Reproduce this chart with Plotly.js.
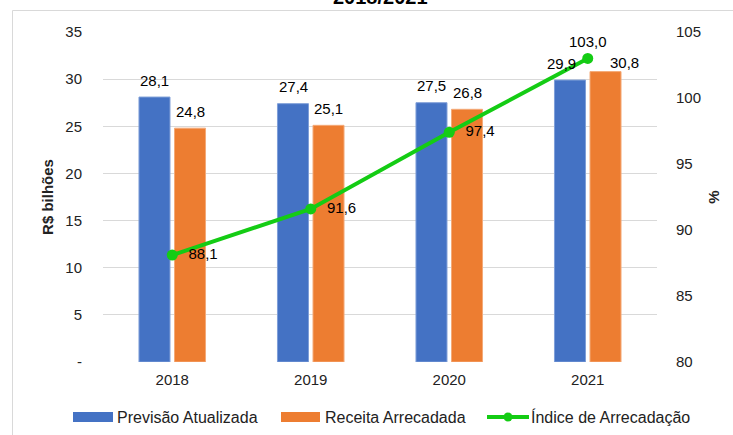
<!DOCTYPE html>
<html>
<head>
<meta charset="utf-8">
<script src="https://cdn.plot.ly/plotly-3.0.1.min.js"></script>
<style>html,body{margin:0;padding:0;background:#fff;}#chart{width:733px;height:435px;}</style>
</head>
<body>
<div id="chart"></div>
<script>
var years = ['2018', '2019', '2020', '2021'];
var previsao = [28.1, 27.4, 27.5, 29.9];
var receita = [24.8, 25.1, 26.8, 30.8];
var indice = [88.1, 91.6, 97.4, 103.0];
var seriesNames = ['Previsão Atualizada', 'Receita Arrecadada', 'Índice de Arrecadação'];
var leftTicks = [0, 5, 10, 15, 20, 25, 30, 35];
var leftTickText = ['-', '5', '10', '15', '20', '25', '30', '35'];
var rightTicks = [80, 85, 90, 95, 100, 105];
var chartTitle = '<b>2018/2021</b>';

var font = 'Liberation Sans, Arial, sans-serif';
var BLUE = '#4472C4', ORANGE = '#ED7D31', GREEN = '#14CC14';

// layout geometry (pixels) -> paper helpers
var W = 733, H = 435, L = 103, R = 76, T = 32, B = 73;
var PW = W - L - R, PH = H - T - B;
function px(x) { return (x - L) / PW; }
function py(y) { return (H - B - y) / PH; }

function fmt(v) { return v.toFixed(1).replace('.', ','); }

var traces = [
  {
    type: 'bar', name: seriesNames[0], x: years, y: previsao, showlegend: false,
    marker: {color: BLUE, line: {color: '#7f9fd8', width: 1}}
  },
  {
    type: 'bar', name: seriesNames[1], x: years, y: receita, showlegend: false,
    marker: {color: ORANGE, line: {color: '#f4aa78', width: 1}}
  },
  {
    type: 'scatter', mode: 'lines+markers+text', name: seriesNames[2], showlegend: false,
    x: years, y: indice, yaxis: 'y2',
    line: {color: GREEN, width: 4},
    marker: {color: GREEN, size: 11},
    texttemplate: ['&nbsp;&nbsp;%{y:.1f}', '&nbsp;&nbsp;%{y:.1f}', '&nbsp;&nbsp;%{y:.1f}', '%{y:.1f}'],
    textposition: ['middle right', 'middle right', 'middle right', 'top center'],
    textfont: {size: 15, color: '#000', family: font},
    cliponaxis: false
  }
];

// bar value labels (label placement offsets, in pixels, per category)
var blueShiftX = [0, 0, 0, -9], blueShiftY = [17, 17, 17, 17];
var orangeShiftX = [0, 0, 0, 19], orangeShiftY = [17, 17, 17, 9];
var halfSlot = 17.75;

var annotations = [
  {text: chartTitle, xref: 'paper', yref: 'paper', x: 0.5, y: py(-3),
   xanchor: 'center', yanchor: 'middle', showarrow: false,
   font: {size: 20, color: '#000', family: font}}
];
years.forEach(function (yr, i) {
  annotations.push({text: fmt(previsao[i]), xref: 'x', yref: 'y', x: i, y: previsao[i],
    xshift: -halfSlot + blueShiftX[i], yshift: blueShiftY[i], xanchor: 'center', yanchor: 'middle',
    showarrow: false, font: {size: 15, color: '#000'}});
  annotations.push({text: fmt(receita[i]), xref: 'x', yref: 'y', x: i, y: receita[i],
    xshift: halfSlot + orangeShiftX[i], yshift: orangeShiftY[i], xanchor: 'center', yanchor: 'middle',
    showarrow: false, font: {size: 15, color: '#000'}});
});

var legendY = 417;
var legendX = [115, 323, 529];
seriesNames.forEach(function (n, i) {
  annotations.push({text: n, xref: 'paper', yref: 'paper', x: px(legendX[i]), y: py(legendY),
    xanchor: 'left', yanchor: 'middle', showarrow: false, font: {size: 16, color: '#222'}});
});

var shapes = [
  {type: 'rect', xref: 'paper', yref: 'paper', x0: px(12.5), x1: 1.3, y0: -0.4, y1: py(10.5),
   line: {color: '#d9d9d9', width: 1}, fillcolor: 'rgba(0,0,0,0)', layer: 'below'},
  {type: 'rect', xref: 'paper', yref: 'paper', x0: px(73), x1: px(113), y0: py(422), y1: py(412),
   line: {width: 0}, fillcolor: BLUE},
  {type: 'rect', xref: 'paper', yref: 'paper', x0: px(281), x1: px(320), y0: py(422), y1: py(412),
   line: {width: 0}, fillcolor: ORANGE},
  {type: 'line', xref: 'paper', yref: 'paper', x0: px(487), x1: px(529), y0: py(legendY), y1: py(legendY),
   line: {color: GREEN, width: 4}},
  {type: 'circle', xref: 'paper', yref: 'paper', x0: px(503.5), x1: px(512.5), y0: py(421.5), y1: py(412.5),
   line: {width: 0}, fillcolor: GREEN}
];

var layout = {
  width: W, height: H,
  separators: ',.',
  font: {family: font, size: 15, color: '#222'},
  paper_bgcolor: '#fff', plot_bgcolor: '#fff',
  margin: {l: L, r: R, t: T, b: B, autoexpand: false},
  showlegend: false,
  bargap: 0.487, bargroupgap: 0.127,
  xaxis: {type: 'category', categoryorder: 'array', categoryarray: years, range: [-0.5, 3.5],
          showgrid: false, zeroline: false, showline: false,
          ticks: 'outside', ticklen: 4, tickcolor: 'rgba(0,0,0,0)',
          tickfont: {size: 15, color: '#222'}},
  yaxis: {range: [0, 35], tickvals: leftTicks, ticktext: leftTickText,
          showgrid: true, gridcolor: '#d9d9d9', gridwidth: 1, zeroline: false, showline: false,
          ticks: 'outside', ticklen: 17, tickcolor: 'rgba(0,0,0,0)',
          tickfont: {size: 15, color: '#222'},
          title: {text: '<b>R$ bilhões</b>', font: {size: 15, color: '#222'}, standoff: 8}},
  yaxis2: {range: [80, 105], tickvals: rightTicks, overlaying: 'y', side: 'right',
           showgrid: false, zeroline: false, showline: false,
           ticks: 'outside', ticklen: 15, tickcolor: 'rgba(0,0,0,0)',
           tickfont: {size: 15, color: '#222'},
           title: {text: '<b>%</b>', font: {size: 15, color: '#222'}, standoff: 8}},
  annotations: annotations,
  shapes: shapes
};

Plotly.newPlot('chart', traces, layout, {displayModeBar: false, staticPlot: true});
</script>
</body>
</html>
